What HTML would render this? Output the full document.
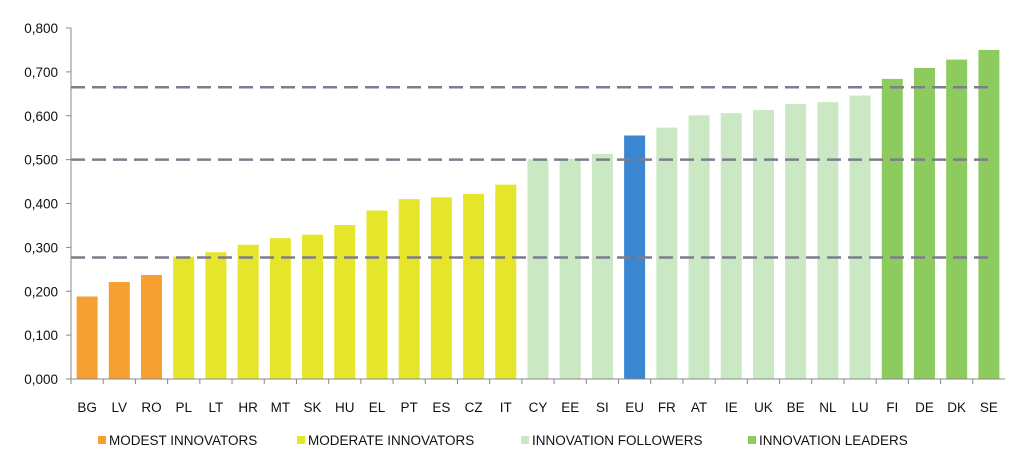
<!DOCTYPE html>
<html><head><meta charset="utf-8"><style>
body{margin:0;background:#fff;font-family:"Liberation Sans",sans-serif;}
svg text{font-family:"Liberation Sans",sans-serif;font-size:13.5px;fill:#111;}
</style></head><body>
<svg id="chart" width="1024" height="469" xmlns="http://www.w3.org/2000/svg"></svg>
<script>
const categories=["BG","LV","RO","PL","LT","HR","MT","SK","HU","EL","PT","ES","CZ","IT","CY","EE","SI","EU","FR","AT","IE","UK","BE","NL","LU","FI","DE","DK","SE"];
const values=[0.188,0.221,0.237,0.279,0.289,0.306,0.321,0.329,0.351,0.384,0.410,0.414,0.422,0.443,0.501,0.502,0.513,0.555,0.573,0.601,0.606,0.613,0.627,0.631,0.646,0.684,0.709,0.728,0.750];
const groups=["modest","modest","modest","moderate","moderate","moderate","moderate","moderate","moderate","moderate","moderate","moderate","moderate","moderate","follower","follower","follower","eu","follower","follower","follower","follower","follower","follower","follower","leader","leader","leader","leader"];
const thresholds=[0.277,0.500,0.665];
const yTicks=[0,0.1,0.2,0.3,0.4,0.5,0.6,0.7,0.8];
const legendLabels=["MODEST INNOVATORS","MODERATE INNOVATORS","INNOVATION FOLLOWERS","INNOVATION LEADERS"];
const colors={modest:"#F5A030",moderate:"#E5E52C",follower:"#CBE8C4",leader:"#8DCB5E",eu:"#3A86D0"};
const svg=document.getElementById('chart');
const NS="http://www.w3.org/2000/svg";
const x0=71,x1=1005,y0=379,yTop=28;
const step=(x1-x0)/categories.length;
const y=v=>y0-(v/0.8)*(y0-yTop);
const xc=i=>x0+step*(i+0.5);
function mk(t,a){const e=document.createElementNS(NS,t);for(const k in a)e.setAttribute(k,a[k]);svg.appendChild(e);return e;}
yTicks.forEach(v=>{
 const t=mk('text',{x:58,y:y(v)+5,'text-anchor':'end'});
 
 
 t.textContent=v.toFixed(3).replace('.',',');
 const l=mk('line',{x1:x0-5,x2:x0,y1:y(v),y2:y(v),stroke:'#888'});
 
 
});
values.forEach((v,i)=>{
 const r=mk('rect',{x:xc(i)-10.5,y:y(v),width:21,height:y0-y(v),fill:colors[groups[i]]});
 
 
 const t=mk('text',{x:xc(i),y:412,'text-anchor':'middle'});
 
 
 t.textContent=categories[i];
 const tk=mk('line',{x1:x0+step*i,x2:x0+step*i,y1:y0,y2:y0+5,stroke:'#888'});
 
 
});
const ya=mk('line',{x1:x0,x2:x0,y1:yTop,y2:y0,stroke:'#888'});


const xa=mk('line',{x1:x0,x2:x1,y1:y0,y2:y0,stroke:'#888'});


thresholds.forEach(v=>{
 const l=mk('line',{x1:x0,x2:992,y1:y(v),y2:y(v),stroke:'#7d7d8d','stroke-width':2.5,'stroke-dasharray':'14,7'});
 
 
});
const lx=[98,297,521,748],lc=["modest","moderate","follower","leader"];
legendLabels.forEach((s,i)=>{
 const r=mk('rect',{x:lx[i],y:436,width:8,height:8,fill:colors[lc[i]]});
 
 
 const t=mk('text',{x:lx[i]+11,y:445});
 
 
 t.textContent=s;
});
</script>
</body></html>
